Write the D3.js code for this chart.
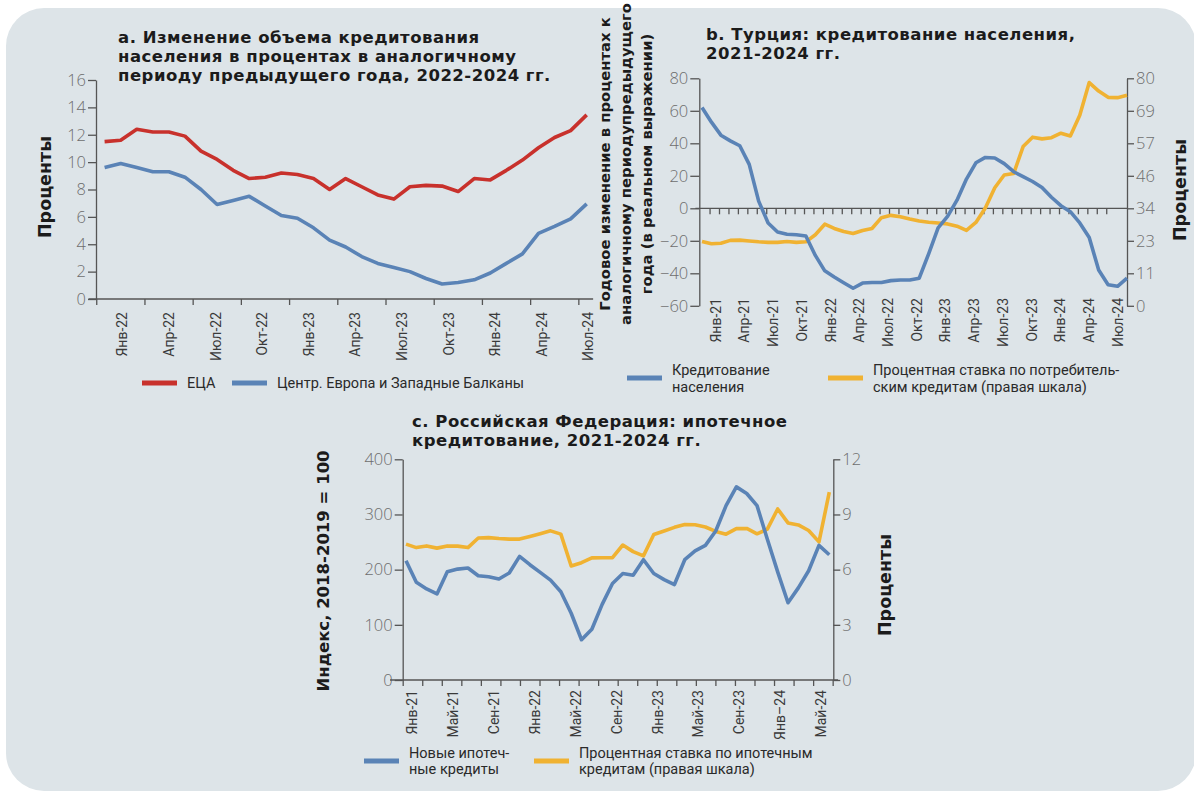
<!DOCTYPE html>
<html>
<head>
<meta charset="utf-8">
<script src="https://cdn.jsdelivr.net/npm/d3@7"></script>
<style>
body { margin: 0; background: #fff; }
svg { display: block; font-family: Roboto, "Noto Sans", sans-serif; }
.ttl { font-family: "DejaVu Sans"; font-weight: 700; font-size: 16.5px; letter-spacing: 0.5px; fill: #1b1b1b; }
.ytl { font-family: "DejaVu Sans"; font-weight: 700; fill: #1b1b1b; }
.num text { font-family: "Open Sans"; font-weight: 300; font-size: 16.5px; fill: #6e6e6e; }
.mon text { font-family: Roboto; font-size: 14px; fill: #3a3a3a; }
.leg { font-family: Roboto; font-size: 14.5px; fill: #2a2a2a; }
.ax path, .ax line, .axl { stroke: #555; stroke-width: 1.3; fill: none; }
</style>
</head>
<body>
<svg></svg>
<script>
// ---- data ----
// panel a: monthly, Jan-22 .. Jul-24
const labelsA = ["Янв-22", "Апр-22", "Июл-22", "Окт-22", "Янв-23", "Апр-23", "Июл-23", "Окт-23", "Янв-24", "Апр-24", "Июл-24"];
const ticksA = [0, 2, 4, 6, 8, 10, 12, 14, 16];
const ecaA = [11.5, 11.6, 12.4, 12.2, 12.2, 11.9, 10.8, 10.2, 9.4, 8.8, 8.9, 9.2, 9.1, 8.8, 8.0, 8.8, 8.2, 7.6, 7.3, 8.2,
    8.3, 8.25, 7.85, 8.8, 8.7, 9.4, 10.15, 11.05, 11.8, 12.3, 13.45];
const ceeA = [9.6, 9.9, 9.6, 9.3, 9.3, 8.9, 8.0, 6.9, 7.2, 7.5, 6.8, 6.1, 5.9, 5.2, 4.3, 3.8, 3.1, 2.6, 2.3, 2.0,
    1.5, 1.1, 1.2, 1.4, 1.9, 2.6, 3.3, 4.8, 5.3, 5.85, 6.95];

// panel b: monthly, Dec-20 .. Sep-24
const labelsB = ["Янв-21", "Апр-21", "Июл-21", "Окт-21", "Янв-22", "Апр-22", "Июл-22", "Окт-22", "Янв-23", "Апр-23", "Июл-23", "Окт-23", "Янв-24", "Апр-24", "Июл-24"];
const ticksBLeft = [-60, -40, -20, 0, 20, 40, 60, 80];
const ticksBRight = ["0", "11", "23", "34", "46", "57", "69", "80"];
const creditB = [62, 53, 45, 41.5, 38.5, 27, 4.4, -9, -14.6, -16, -16.3, -17, -29, -38.5, -42.3, -45.8, -49.2, -46, -45.7, -45.7,
    -44.5, -44.1, -44.1, -43, -28, -12, -5, 5, 18, 28, 31.3, 31, 27.5, 22.5, 19.5, 16.5, 12.8, 6.8, 1.6, -2.1,
    -9, -18, -38, -47, -48, -43];
const rateB = [22.6, 21.8, 22.0, 23.0, 23.1, 22.8, 22.5, 22.3, 22.3, 22.6, 22.3, 22.5, 25.0, 28.7, 27.2, 26.1, 25.4, 26.5, 27.2, 31.0,
    31.8, 31.3, 30.5, 29.8, 29.4, 29.1, 28.8, 28.0, 26.5, 29.3, 34.4, 41.5, 46.0, 46.5, 56.0, 59.3, 58.7, 59.1, 60.7, 59.7,
    67.0, 78.5, 75.5, 73.3, 73.2, 74.0];

// panel c: monthly, Jan-21 .. Jun-24
const labelsC = ["Янв-21", "Май-21", "Сен-21", "Янв-22", "Май-22", "Сен-22", "Янв-23", "Май-23", "Сен-23", "Янв–24", "Май-24"];
const ticksCLeft = [0, 100, 200, 300, 400];
const ticksCRight = [0, 3, 6, 9, 12];
const mortgageC = [216, 177, 165, 156, 196, 201, 203, 189, 187, 183, 194, 224, 209, 195, 181, 160, 121, 73, 92, 137,
    175, 193, 190, 218, 193, 182, 173, 218, 234, 244, 270, 316, 350, 338, 316, 255, 196, 140, 167, 198, 244, 227];
const mortRateC = [7.39, 7.20, 7.29, 7.17, 7.29, 7.28, 7.20, 7.72, 7.74, 7.69, 7.66, 7.66, 7.80, 7.95, 8.11, 7.93, 6.20, 6.38, 6.64, 6.65,
    6.65, 7.34, 6.98, 6.75, 7.91, 8.10, 8.30, 8.45, 8.44, 8.32, 8.08, 7.93, 8.23, 8.24, 7.95, 8.20, 9.30, 8.54, 8.43, 8.13,
    7.51, 10.21];

const RED = "#c8312c", BLUE = "#5a83b6", YELLOW = "#f0b232";

const width = 1194;
const height = 791;
const svg = d3.select("svg").attr("width", width).attr("height", height);

// grey rounded background
svg.append("rect")
    .attr("x", 6).attr("y", 8)
    .attr("width", 1190).attr("height", 783)
    .attr("rx", 38)
    .attr("fill", "#dde4e8");

// ---- helpers ----
const drawLine = (x, y, values, color) => {
    svg.append("path")
        .datum(values)
        .attr("fill", "none")
        .attr("stroke", color)
        .attr("stroke-width", 3.6)
        .attr("stroke-linejoin", "round")
        .attr("d", d3.line().x((d, i) => x(i)).y(d => y(d)));
};

// one <text> per line so lines stay separate
const multiText = (x, y, lines, cls, step) => {
    lines.forEach((s, i) => svg.append("text").attr("class", cls)
        .attr("x", x).attr("y", y + i * step).text(s));
};

const rotText = (x, y, s, size) => {
    svg.append("text").attr("class", "ytl")
        .attr("transform", `translate(${x},${y}) rotate(-90)`)
        .attr("text-anchor", "middle")
        .style("font-size", size + "px")
        .text(s);
};

// rotated month labels hanging below a given y
const monthLabels = (x, top, positions, labels) => {
    const g = svg.append("g").attr("class", "mon")
        .attr("transform", `translate(0,${top})`)
        .call(d3.axisBottom(x).tickValues(positions).tickSize(0).tickFormat((d, i) => labels[i]));
    g.select(".domain").remove();
    g.selectAll("text")
        .attr("transform", "rotate(-90)")
        .attr("x", 0).attr("y", 0).attr("dy", "0.36em")
        .style("text-anchor", "end");
};

const legendItem = (x, y, color, lines, step) => {
    svg.append("line").attr("x1", x).attr("x2", x + 35).attr("y1", y).attr("y2", y)
        .attr("stroke", color).attr("stroke-width", 5);
    multiText(x + 45, y + 5 - (lines.length - 1) * step / 2, lines, "leg", step);
};

// ---- panel a ----
const drawPanelA = () => {
    const x = d3.scaleLinear().domain([0, 30]).range([104.6, 586.7]);
    const y = d3.scaleLinear().domain([0, 16]).range([299, 80]);

    svg.append("g").attr("class", "ax num")
        .attr("transform", "translate(96,0)")
        .call(d3.axisLeft(y).tickValues(ticksA).tickSize(8).tickSizeOuter(0).tickPadding(2));

    svg.append("line").attr("class", "axl")
        .attr("x1", x(-1)).attr("x2", x(30.4)).attr("y1", y(0)).attr("y2", y(0));
    const tk = svg.append("g").attr("class", "ax")
        .attr("transform", `translate(0,${y(0)})`)
        .call(d3.axisBottom(x).tickValues(d3.range(11).map(k => -0.52 + 3 * k)).tickSize(6).tickFormat(""));
    tk.select(".domain").remove();

    monthLabels(x, 312, labelsA.map((d, k) => 1.07 + 2.9 * k), labelsA);

    drawLine(x, y, ceeA, BLUE);
    drawLine(x, y, ecaA, RED);

    multiText(118, 43, ["a. Изменение объема кредитования",
        "населения в процентах в аналогичному",
        "периоду предыдущего года, 2022-2024 гг."], "ttl", 19);
    rotText(51, 187, "Проценты", 17.5);

    legendItem(142, 383, RED, ["ЕЦА"], 0);
    legendItem(232, 383, BLUE, ["Центр. Европа и Западные Балканы"], 0);
};

// ---- panel b ----
const drawPanelB = () => {
    const x = d3.scaleLinear().domain([0, 45]).range([702, 1127]);
    const yL = d3.scaleLinear().domain([-60, 80]).range([305.8, 78.3]);
    const yR = d3.scaleLinear().domain([0, 80]).range([305.8, 78.3]);

    svg.append("g").attr("class", "ax num")
        .attr("transform", "translate(699.3,0)")
        .call(d3.axisLeft(yL).tickValues(ticksBLeft).tickSize(9).tickSizeOuter(0).tickPadding(2)
            .tickFormat(d => d < 0 ? "\u2212" + (-d) : d));

    svg.append("g").attr("class", "ax num")
        .attr("transform", "translate(1127,0)")
        .call(d3.axisRight(yR).tickValues(ticksBRight.map((d, j) => 80 * j / 7)).tickSize(7).tickSizeOuter(0).tickPadding(2)
            .tickFormat((d, j) => ticksBRight[j]));

    svg.append("line").attr("class", "axl")
        .attr("x1", x(-0.7)).attr("x2", x(45)).attr("y1", yL(0)).attr("y2", yL(0));
    const tk = svg.append("g").attr("class", "ax")
        .attr("transform", `translate(0,${yL(0)})`)
        .call(d3.axisBottom(x).tickValues(d3.range(43).map(k => 0.8 + k)).tickSize(6).tickFormat(""));
    tk.select(".domain").remove();

    monthLabels(x, 298, labelsB.map((d, k) => 1.4 + 3.04 * k), labelsB);

    drawLine(x, yR, rateB, YELLOW);
    drawLine(x, yL, creditB, BLUE);

    multiText(706, 40, ["b. Турция: кредитование населения,", "2021-2024 гг."], "ttl", 19);

    const lt = ["Годовое изменение в процентах к", "аналогичному периодупредыдущего", "года (в реальном выражении)"];
    lt.forEach((s, i) => rotText(610 + 21 * i, 164, s, 14.8));
    rotText(1186, 190, "Проценты", 17.5);

    legendItem(627, 378, BLUE, ["Кредитование", "населения"], 17);
    legendItem(828, 378, YELLOW, ["Процентная ставка по потребитель-", "ским кредитам (правая шкала)"], 17);
};

// ---- panel c ----
const drawPanelC = () => {
    const x = d3.scaleLinear().domain([0, 41]).range([406, 829.3]);
    const yL = d3.scaleLinear().domain([0, 400]).range([680, 459.3]);
    const yR = d3.scaleLinear().domain([0, 12]).range([680, 459.3]);

    svg.append("g").attr("class", "ax num")
        .attr("transform", "translate(402.7,0)")
        .call(d3.axisLeft(yL).tickValues(ticksCLeft).tickSize(8).tickSizeOuter(0).tickPadding(2));

    svg.append("g").attr("class", "ax num")
        .attr("transform", "translate(833.3,0)")
        .call(d3.axisRight(yR).tickValues(ticksCRight).tickSize(7).tickSizeOuter(0).tickPadding(2));

    svg.append("line").attr("class", "axl")
        .attr("x1", x(-1.55)).attr("x2", x(41.85)).attr("y1", yL(0)).attr("y2", yL(0));
    const tk = svg.append("g").attr("class", "ax")
        .attr("transform", `translate(0,${yL(0)})`)
        .call(d3.axisBottom(x).tickValues(d3.range(23).map(k => -0.32 + 1.893 * k)).tickSize(6).tickFormat(""));
    tk.select(".domain").remove();

    monthLabels(x, 690, labelsC.map((d, k) => 0.55 + 3.96 * k), labelsC);

    drawLine(x, yR, mortRateC, YELLOW);
    drawLine(x, yL, mortgageC, BLUE);

    multiText(412, 427, ["c. Российская Федерация: ипотечное", "кредитование, 2021-2024 гг."], "ttl", 19);
    rotText(329, 571, "Индекс, 2018-2019 = 100", 16.5);
    rotText(891, 585, "Проценты", 17.5);

    legendItem(364, 761, BLUE, ["Новые ипотеч-", "ные кредиты"], 16);
    legendItem(534, 761, YELLOW, ["Процентная ставка по ипотечным", "кредитам (правая шкала)"], 16);
};

drawPanelA();
drawPanelB();
drawPanelC();
</script>
</body>
</html>
